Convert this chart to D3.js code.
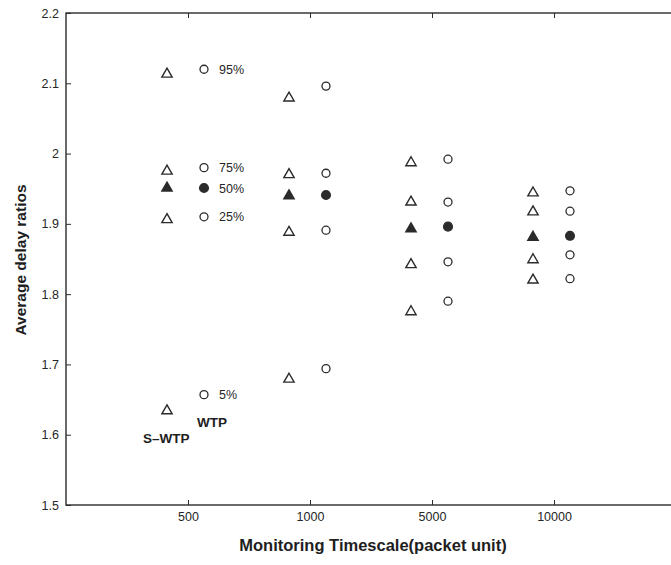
<!DOCTYPE html>
<html>
<head>
<meta charset="utf-8">
<script src="https://cdn.jsdelivr.net/npm/d3@7/dist/d3.min.js"></script>
<style>
  html, body { margin: 0; padding: 0; background: #ffffff; }
  svg { display: block; }
  text { font-family: "Liberation Sans", Arial, Helvetica, sans-serif; }
</style>
</head>
<body>
<svg id="chart" width="671" height="565"></svg>
<script>
// Monitoring timescales (packet units)
const categories = ["500", "1000", "5000", "10000"];
const percentiles = ["95%", "75%", "50%", "25%", "5%"];
const yTicks = [1.5, 1.6, 1.7, 1.8, 1.9, 2.0, 2.1, 2.2];

// S-WTP average delay ratios per percentile, one value per timescale
const sWtp95 = [2.113, 2.079, 1.987, 1.944];
const sWtp75 = [1.975, 1.970, 1.931, 1.917];
const sWtp50 = [1.951, 1.940, 1.893, 1.881];
const sWtp25 = [1.906, 1.888, 1.842, 1.849];
const sWtp5  = [1.634, 1.679, 1.775, 1.820];

// WTP average delay ratios per percentile, one value per timescale
const wtp95 = [2.120, 2.096, 1.992, 1.947];
const wtp75 = [1.980, 1.972, 1.931, 1.918];
const wtp50 = [1.951, 1.941, 1.896, 1.883];
const wtp25 = [1.910, 1.891, 1.846, 1.856];
const wtp5  = [1.657, 1.694, 1.790, 1.822];

const sWtpSeries = [sWtp95, sWtp75, sWtp50, sWtp25, sWtp5];
const wtpSeries = [wtp95, wtp75, wtp50, wtp25, wtp5];

const svg = d3.select("#chart");
const plotLeft = 66, plotRight = 676, plotTop = 13, plotBottom = 505;
const ink = "#2b2b2b";

// Categories sit at 1..4 on a 0..5 band
const x = d3.scaleLinear().domain([0, categories.length + 1]).range([plotLeft, plotRight]);
const y = d3.scaleLinear().domain([1.5, 2.2]).range([plotBottom, plotTop]);
const catX = i => x(i + 1);
const dodgeTri = -21, dodgeCirc = 16;

const fmt = d => String(+d.toFixed(1));

// Frame
svg.append("rect")
  .attr("x", plotLeft).attr("y", plotTop)
  .attr("width", plotRight - plotLeft).attr("height", plotBottom - plotTop)
  .attr("fill", "none").attr("stroke", ink).attr("stroke-width", 1.4);

function styleAxis(g) {
  g.select(".domain").remove();
  g.selectAll(".tick line").attr("stroke", ink).attr("stroke-width", 1);
  g.selectAll(".tick text").attr("fill", "#262626").attr("font-size", 12.5);
}

// Left axis
svg.append("g").attr("transform", `translate(${plotLeft},0)`)
  .call(d3.axisLeft(y).tickValues(yTicks).tickFormat(fmt).tickSize(-5).tickPadding(7))
  .call(styleAxis);

// Right axis (ticks only)
svg.append("g").attr("transform", `translate(${plotRight},0)`)
  .call(d3.axisRight(y).tickValues(yTicks).tickFormat("").tickSize(-5))
  .call(styleAxis);

// Bottom axis
svg.append("g").attr("transform", `translate(0,${plotBottom})`)
  .call(d3.axisBottom(x).tickValues(categories.map((c, i) => i + 1))
    .tickFormat((d, i) => categories[i]).tickSize(-5).tickPadding(7))
  .call(styleAxis);

// Top axis (ticks only)
svg.append("g").attr("transform", `translate(0,${plotTop})`)
  .call(d3.axisTop(x).tickValues(categories.map((c, i) => i + 1)).tickFormat("").tickSize(-5))
  .call(styleAxis);

// Axis titles
svg.append("text")
  .attr("x", 373).attr("y", 551)
  .attr("text-anchor", "middle")
  .attr("font-size", 16.5).attr("font-weight", "bold").attr("fill", "#1e1e1e")
  .text("Monitoring Timescale(packet unit)");

svg.append("text")
  .attr("transform", "translate(26,260) rotate(-90)")
  .attr("text-anchor", "middle")
  .attr("font-size", 15.5).attr("font-weight", "bold").attr("fill", "#1e1e1e")
  .text("Average delay ratios");

// Markers
const tri = d3.symbol().type(d3.symbolTriangle).size(46);
const marks = svg.append("g");

sWtpSeries.forEach((series, p) => {
  const filled = percentiles[p] === "50%";
  marks.selectAll(null).data(series).join("path")
    .attr("d", tri)
    .attr("transform", (v, i) => `translate(${catX(i) + dodgeTri},${y(v)})`)
    .attr("fill", filled ? ink : "none")
    .attr("stroke", ink).attr("stroke-width", 1.4);
});

wtpSeries.forEach((series, p) => {
  const filled = percentiles[p] === "50%";
  marks.selectAll(null).data(series).join("circle")
    .attr("cx", (v, i) => catX(i) + dodgeCirc)
    .attr("cy", v => y(v))
    .attr("r", filled ? 4.4 : 4)
    .attr("fill", filled ? ink : "none")
    .attr("stroke", ink).attr("stroke-width", 1.3);
});

// Percentile labels beside the first timescale's WTP markers
percentiles.forEach((label, p) => {
  const v = wtpSeries[p][0];
  const yPos = label === "50%" ? Math.max(y(v), y(wtp75[0]) + 21) : y(v);
  svg.append("text")
    .attr("x", catX(0) + dodgeCirc + 15)
    .attr("y", yPos)
    .attr("dy", "0.36em")
    .attr("font-size", 12.5).attr("fill", "#262626")
    .text(label);
});

// Series names below the 5% markers
svg.append("text")
  .attr("x", catX(0) + dodgeCirc - 7).attr("y", y(wtp5[0]) + 32)
  .attr("font-size", 13.5).attr("font-weight", "bold").attr("fill", "#1e1e1e")
  .text("WTP");
svg.append("text")
  .attr("x", catX(0) + dodgeTri - 24).attr("y", y(sWtp5[0]) + 32)
  .attr("font-size", 13.5).attr("font-weight", "bold").attr("fill", "#1e1e1e")
  .text("S\u2013WTP");
</script>
</body>
</html>
